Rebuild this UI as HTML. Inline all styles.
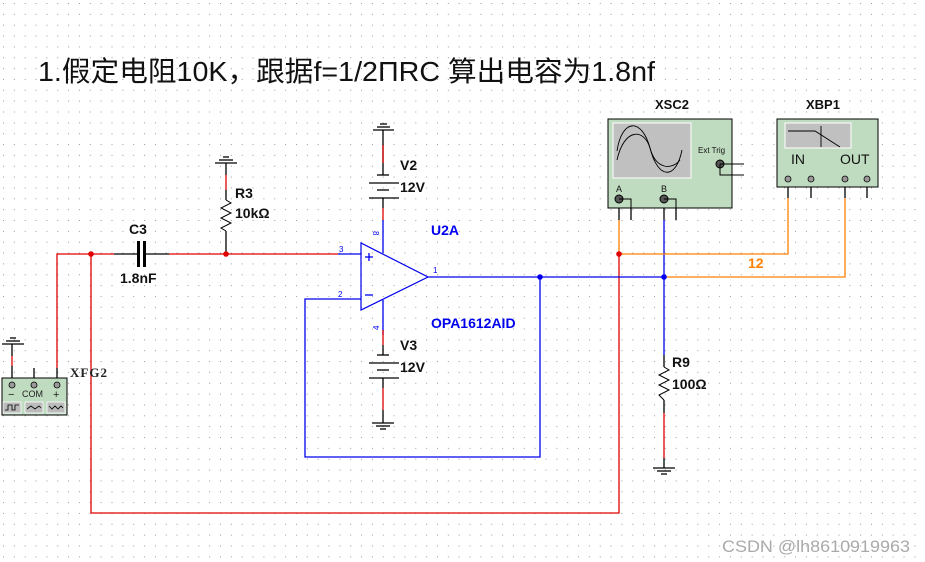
<!DOCTYPE html>
<html><head><meta charset="utf-8"><style>
html,body{margin:0;padding:0;background:#fff;width:925px;height:562px;overflow:hidden}
svg{display:block}
.b{font-family:"Liberation Sans",sans-serif;font-weight:bold}
</style></head><body>
<svg width="925" height="562" viewBox="0 0 925 562" xmlns="http://www.w3.org/2000/svg">
<defs>
<pattern id="g" x="3" y="3" width="10.85" height="10.85" patternUnits="userSpaceOnUse">
<rect x="0" y="0" width="1" height="1" fill="#9a9a9a"/>
</pattern>
</defs>
<rect width="925" height="562" fill="#fff"/>
<rect width="925" height="562" fill="url(#g)"/>

<text x="38" y="81" font-family="Liberation Sans,'Noto Sans CJK SC',sans-serif" font-size="28" fill="#111" textLength="617" lengthAdjust="spacingAndGlyphs">1.假定电阻10K，跟据f=1/2ΠRC 算出电容为1.8nf</text>

<g fill="none" stroke-width="1.3">
<polyline points="57,368 57,254 114,254" stroke="#e00000"/>
<line x1="114" y1="254" x2="138" y2="254" stroke="#000"/>
<line x1="143" y1="254" x2="169" y2="254" stroke="#000"/>
<line x1="169" y1="254" x2="338" y2="254" stroke="#e00000"/>
<line x1="338" y1="254" x2="361" y2="254" stroke="#0000ee"/>
<polyline points="91,254 91,513 619,513 619,254" stroke="#e00000"/>
<line x1="226" y1="163" x2="226" y2="175" stroke="#000"/>
<line x1="226" y1="175" x2="226" y2="190" stroke="#e00000"/>
<line x1="226" y1="190" x2="226" y2="200" stroke="#000"/>
<polyline points="226,200 231,203 221,208 231,213 221,218 231,223 221,228 226,231" stroke="#000" stroke-width="1"/>
<line x1="226" y1="231" x2="226" y2="254" stroke="#000"/>
<line x1="215" y1="163" x2="237" y2="163" stroke="#000"/>
<line x1="219" y1="160" x2="233" y2="160" stroke="#000"/>
<line x1="223" y1="157" x2="229" y2="157" stroke="#000"/>
<line x1="138.5" y1="241" x2="138.5" y2="267" stroke="#000" stroke-width="3"/>
<line x1="144.5" y1="241" x2="144.5" y2="267" stroke="#000" stroke-width="3"/>
<line x1="12" y1="344" x2="12" y2="356" stroke="#000"/>
<line x1="12" y1="356" x2="12" y2="366" stroke="#e00000"/>
<line x1="12" y1="366" x2="12" y2="380" stroke="#000"/>
<line x1="2" y1="344" x2="24" y2="344" stroke="#000"/>
<line x1="6" y1="341" x2="20" y2="341" stroke="#000"/>
<line x1="10" y1="338" x2="16" y2="338" stroke="#000"/>
<line x1="34" y1="368" x2="34" y2="380" stroke="#000"/>
<line x1="57" y1="368" x2="57" y2="380" stroke="#000"/>
<line x1="373" y1="130" x2="394" y2="130" stroke="#000"/>
<line x1="377" y1="127" x2="390" y2="127" stroke="#000"/>
<line x1="380" y1="124" x2="387" y2="124" stroke="#000"/>
<line x1="383" y1="130" x2="383" y2="163" stroke="#000"/>
<line x1="383" y1="145" x2="383" y2="163" stroke="#e00000"/>
<line x1="383" y1="163" x2="383" y2="175" stroke="#000"/>
<line x1="377" y1="175" x2="389" y2="175" stroke="#000"/>
<line x1="369" y1="183" x2="399" y2="183" stroke="#000"/>
<line x1="377" y1="190" x2="389" y2="190" stroke="#000"/>
<line x1="369" y1="198" x2="399" y2="198" stroke="#000"/>
<line x1="383" y1="198" x2="383" y2="208" stroke="#000"/>
<line x1="383" y1="208" x2="383" y2="220" stroke="#e00000"/>
<line x1="383" y1="220" x2="383" y2="253" stroke="#0000ee"/>
<line x1="383" y1="300" x2="383" y2="335" stroke="#0000ee"/>
<line x1="383" y1="330" x2="383" y2="345" stroke="#e00000"/>
<line x1="383" y1="345" x2="383" y2="355" stroke="#000"/>
<line x1="377" y1="355" x2="389" y2="355" stroke="#000"/>
<line x1="369" y1="363" x2="399" y2="363" stroke="#000"/>
<line x1="377" y1="370" x2="389" y2="370" stroke="#000"/>
<line x1="369" y1="378" x2="399" y2="378" stroke="#000"/>
<line x1="383" y1="378" x2="383" y2="388" stroke="#000"/>
<line x1="383" y1="388" x2="383" y2="410" stroke="#e00000"/>
<line x1="383" y1="410" x2="383" y2="423" stroke="#000"/>
<line x1="372" y1="423" x2="394" y2="423" stroke="#000"/>
<line x1="376" y1="426" x2="390" y2="426" stroke="#000"/>
<line x1="380" y1="429" x2="386" y2="429" stroke="#000"/>
<polygon points="361,243 361,310 428,277" stroke="#0000ee" stroke-width="1.2"/>
<line x1="365" y1="257" x2="373" y2="257" stroke="#0000ee"/>
<line x1="369" y1="253" x2="369" y2="261" stroke="#0000ee"/>
<line x1="365" y1="295" x2="373" y2="295" stroke="#0000ee"/>
<polyline points="361,299 305,299 305,457 540,457 540,277" stroke="#0000ee"/>
<line x1="428" y1="277" x2="664" y2="277" stroke="#0000ee"/>
<line x1="664" y1="198" x2="664" y2="220" stroke="#000"/>
<line x1="664" y1="220" x2="664" y2="355" stroke="#0000ee"/>
<line x1="619" y1="198" x2="619" y2="220" stroke="#000"/>
<line x1="619" y1="220" x2="619" y2="254" stroke="#ff8000"/>
<line x1="631" y1="198" x2="631" y2="220" stroke="#000"/>
<line x1="676" y1="198" x2="676" y2="220" stroke="#000"/>
<polyline points="619,254 788,254 788,198" stroke="#ff8000"/>
<polyline points="664,277 845,277 845,198" stroke="#ff8000"/>
<line x1="788" y1="187" x2="788" y2="198" stroke="#000"/>
<line x1="845" y1="187" x2="845" y2="198" stroke="#000"/>
<line x1="811" y1="187" x2="811" y2="198" stroke="#000"/>
<line x1="867" y1="187" x2="867" y2="198" stroke="#000"/>
<line x1="664" y1="355" x2="664" y2="367" stroke="#000"/>
<polyline points="664,367 669,370 659,375 669,380 659,385 669,390 659,395 664,400" stroke="#000" stroke-width="1"/>
<line x1="664" y1="400" x2="664" y2="413" stroke="#000"/>
<line x1="664" y1="413" x2="664" y2="458" stroke="#e00000"/>
<line x1="664" y1="458" x2="664" y2="468" stroke="#000"/>
<line x1="653" y1="468" x2="675" y2="468" stroke="#000"/>
<line x1="657" y1="471" x2="671" y2="471" stroke="#000"/>
<line x1="661" y1="474" x2="667" y2="474" stroke="#000"/>
</g>
<circle cx="91" cy="254" r="2.8" fill="#e00000"/>
<circle cx="226" cy="254" r="2.8" fill="#e00000"/>
<circle cx="540" cy="277" r="2.8" fill="#0000ee"/>
<circle cx="664" cy="277" r="2.8" fill="#0000ee"/>
<circle cx="619" cy="254" r="2.8" fill="#e00000"/>

<rect x="2" y="378" width="65" height="37" fill="#c0dcc0" stroke="#000" stroke-width="1"/>
<g fill="#999" stroke="#000" stroke-width="0.8">
<circle cx="12" cy="385" r="3"/><circle cx="34" cy="385" r="3"/><circle cx="57" cy="385" r="3"/>
</g>
<text x="8" y="398" font-family="Liberation Sans,sans-serif" font-size="11" fill="#222">−</text>
<text x="22" y="397" font-family="Liberation Sans,sans-serif" font-size="9" fill="#222">COM</text>
<text x="53" y="398" font-family="Liberation Sans,sans-serif" font-size="11" fill="#222">+</text>
<g fill="#bbb" stroke="#fff" stroke-width="0.8">
<rect x="3" y="402" width="18" height="11"/><rect x="25" y="402" width="18" height="11"/><rect x="47" y="402" width="18" height="11"/>
</g>
<g fill="none" stroke="#000" stroke-width="0.8">
<polyline points="5,410 8,410 8,405 12,405 12,410 15,410 15,405 19,405"/>
<polyline points="27,409 31,406 35,409 39,406 41,408"/>
<polyline points="49,406 52,409 55,406 58,409 61,406 63,408"/>
</g>
<text x="70" y="377" font-family="Liberation Serif,serif" font-weight="bold" font-size="13" fill="#222" letter-spacing="1">XFG2</text>

<rect x="608" y="119" width="124" height="89" fill="#c0dcc0" stroke="#000" stroke-width="1"/>
<rect x="613" y="123" width="78" height="55" fill="#c0c0c0" stroke="#fff" stroke-width="1"/>
<g fill="none" stroke="#000" stroke-width="0.9">
<path d="M617,151 C622,118 642,118 650,148 C658,180 676,180 682,150"/>
<path d="M617,160 C624,128 644,128 650,148 C656,170 672,170 680,160"/>
</g>
<text x="698" y="153" font-family="Liberation Sans,sans-serif" font-size="8" fill="#111">Ext Trig</text>
<g fill="#555" stroke="#000" stroke-width="1">
<circle cx="619" cy="199" r="4"/><circle cx="664" cy="199" r="4"/><circle cx="720" cy="164" r="4"/>
</g>
<g stroke="#000" fill="none" stroke-width="1">
<polyline points="619,199 631,199 631,208"/>
<polyline points="664,199 676,199 676,208"/>
<line x1="720" y1="164" x2="744" y2="164"/>
<polyline points="720,164 720,175 744,175"/>
</g>
<text x="616" y="192" font-family="Liberation Sans,sans-serif" font-size="9" fill="#111">A</text>
<text x="661" y="192" font-family="Liberation Sans,sans-serif" font-size="9" fill="#111">B</text>
<text x="655" y="109" class="b" font-family="Liberation Mono,monospace" font-size="13" fill="#111">XSC2</text>

<rect x="777" y="119" width="101" height="68" fill="#c0dcc0" stroke="#000" stroke-width="1"/>
<rect x="785" y="123" width="66" height="25" fill="#c0c0c0" stroke="#fff" stroke-width="1"/>
<g stroke="#000" fill="none" stroke-width="0.9">
<polyline points="788,131 815,131 840,147"/>
<line x1="821" y1="126" x2="821" y2="147"/>
</g>
<text x="791" y="164" font-family="Liberation Sans,sans-serif" font-size="14" fill="#111">IN</text>
<text x="840" y="164" font-family="Liberation Sans,sans-serif" font-size="14" fill="#111">OUT</text>
<g fill="#999" stroke="#000" stroke-width="0.8">
<circle cx="788" cy="179" r="3"/><circle cx="811" cy="179" r="3"/><circle cx="845" cy="179" r="3"/><circle cx="867" cy="179" r="3"/>
</g>
<text x="806" y="109" class="b" font-family="Liberation Mono,monospace" font-size="13" fill="#111">XBP1</text>

<g class="b" font-size="14" fill="#111">
<text x="129" y="234">C3</text>
<text x="120" y="283">1.8nF</text>
<text x="235" y="198">R3</text>
<text x="235" y="218">10kΩ</text>
<text x="400" y="170">V2</text>
<text x="400" y="192">12V</text>
<text x="400" y="350">V3</text>
<text x="400" y="372">12V</text>
<text x="672" y="367">R9</text>
<text x="672" y="389">100Ω</text>
</g>
<g class="b" font-size="14" fill="#0000ee">
<text x="431" y="235">U2A</text>
<text x="431" y="328">OPA1612AID</text>
</g>
<text x="748" y="268" class="b" font-size="14" fill="#ff8000">12</text>
<g font-family="Liberation Sans,sans-serif" font-size="8" fill="#0000ee">
<text x="339" y="252">3</text>
<text x="338" y="297">2</text>
<text x="433" y="273">1</text>
<text x="373" y="237" transform="rotate(90 376 234)">8</text>
<text x="373" y="330" transform="rotate(-90 376 327)">4</text>
</g>
<text x="722" y="552" font-family="Liberation Sans,sans-serif" font-size="17" fill="#aaa" textLength="188" lengthAdjust="spacingAndGlyphs">CSDN @lh8610919963</text>
</svg>
</body></html>
